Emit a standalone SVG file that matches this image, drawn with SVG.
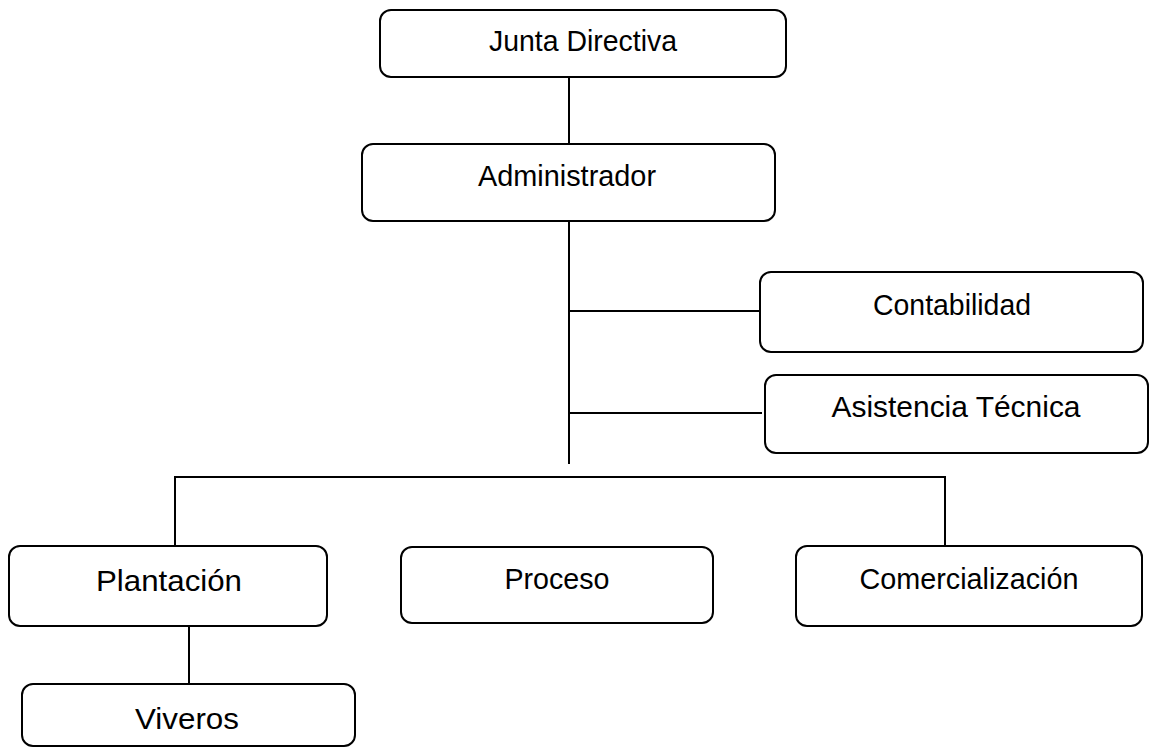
<svg xmlns="http://www.w3.org/2000/svg" width="1154" height="749" viewBox="0 0 1154 749">
<style>
.box{fill:#fff;stroke:#000;stroke-width:2}
.ln{stroke:#000;stroke-width:2;fill:none}
text{font-family:"Liberation Sans",Arial,sans-serif;fill:#000;text-anchor:middle;font-size:30px}
</style>
<rect width="1154" height="749" fill="#fff"/>
<g id="connectors">
<line class="ln" x1="569" y1="77" x2="569" y2="144"/>
<line class="ln" x1="569" y1="221" x2="569" y2="464"/>
<line class="ln" x1="569" y1="311" x2="760" y2="311"/>
<line class="ln" x1="569" y1="413" x2="762" y2="413"/>
<line class="ln" x1="174" y1="477" x2="946" y2="477"/>
<line class="ln" x1="175" y1="477" x2="175" y2="546"/>
<line class="ln" x1="945" y1="477" x2="945" y2="546"/>
<line class="ln" x1="189" y1="626" x2="189" y2="684"/>
</g>
<g id="junta">
<rect class="box" x="380" y="10" width="406" height="67" rx="11"/>
<text x="583" y="51" textLength="188" lengthAdjust="spacingAndGlyphs">Junta Directiva</text>
</g>
<g id="administrador">
<rect class="box" x="362" y="144" width="413" height="77" rx="11"/>
<text x="567" y="186" textLength="178" lengthAdjust="spacingAndGlyphs">Administrador</text>
</g>
<g id="contabilidad">
<rect class="box" x="760" y="272" width="383" height="80" rx="11"/>
<text x="952" y="315" textLength="158" lengthAdjust="spacingAndGlyphs">Contabilidad</text>
</g>
<g id="asistencia">
<rect class="box" x="765" y="375" width="383" height="78" rx="11"/>
<text x="956" y="417" textLength="249" lengthAdjust="spacingAndGlyphs">Asistencia Técnica</text>
</g>
<g id="plantacion">
<rect class="box" x="9" y="546" width="318" height="80" rx="11"/>
<text x="169" y="591" font-size="31" textLength="146" lengthAdjust="spacingAndGlyphs">Plantación</text>
</g>
<g id="proceso">
<rect class="box" x="401" y="547" width="312" height="76" rx="11"/>
<text x="557" y="589" textLength="105" lengthAdjust="spacingAndGlyphs">Proceso</text>
</g>
<g id="comercializacion">
<rect class="box" x="796" y="546" width="346" height="80" rx="11"/>
<text x="969" y="589" textLength="219" lengthAdjust="spacingAndGlyphs">Comercialización</text>
</g>
<g id="viveros">
<rect class="box" x="22" y="684" width="333" height="62" rx="11"/>
<text x="187" y="729" font-size="31" textLength="104" lengthAdjust="spacingAndGlyphs">Viveros</text>
</g>
</svg>
